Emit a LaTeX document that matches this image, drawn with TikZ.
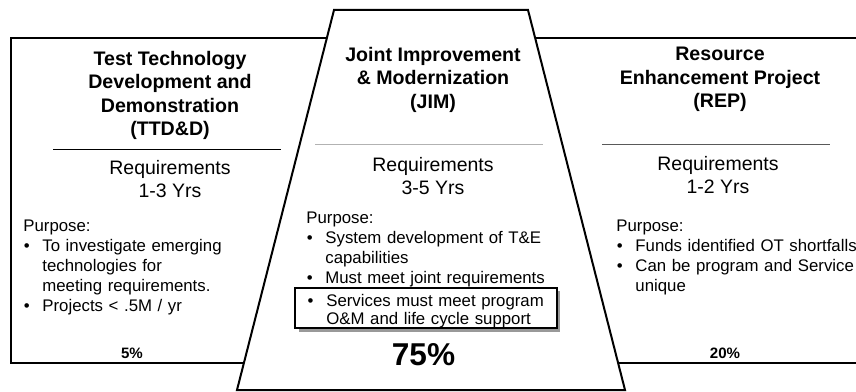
\documentclass[tikz,border=0pt]{standalone}
\usepackage{fontspec}
\setmainfont{Liberation Sans}
\usetikzlibrary{shadows}
\newcommand{\bitem}[1]{\par\hangindent=14.25pt\hangafter=1\noindent\makebox[14.25pt][l]{\hspace{0.3pt}\textbullet}#1\par}

\begin{document}
\begin{tikzpicture}[x=0.75pt,y=-0.75pt,semithick]
  \tikzstyle{frame}=[line width=1.5pt]
  \tikzstyle{title}=[align=center,font=\fontsize{14.7}{17.6}\selectfont\bfseries]
  \tikzstyle{req}=[align=center,font=\fontsize{14.6}{17.3}\selectfont]
  \tikzstyle{purpose}=[anchor=west,inner sep=0pt,text width=200pt,align=left,
                       font=\fontsize{12.6}{15}\selectfont]
  \tikzstyle{hilite}=[draw,line width=1.5pt,fill=white,text width=178pt,inner xsep=9pt,
                      inner ysep=0pt,minimum height=29pt,align=left,font=\fontsize{12.6}{14}\selectfont,
                      drop shadow={fill=gray!80,opacity=1,shadow xshift=2.5pt,shadow yshift=-2.5pt}]
  \tikzstyle{pct}=[font=\fontsize{11.3}{13}\selectfont\bfseries]

  \useasboundingbox (0,0) rectangle (856,392);

  % outer frame and the middle trapezoid
  \draw[frame] (862,38) -| (11,363) -- (862,363);
  \draw[frame,fill=white] (334,10) -- (528,10) -- (625,390) -- (237,390) -- cycle;

  % separators
  \draw[line width=0.75pt] (53,150) -- (281,150);
  \draw[line width=0.75pt,gray!60] (315,145) -- (543,145);
  \draw[line width=0.75pt,black!65] (602,145) -- (830,145);

  \node[title] (ttd) at (170,95.5) {Test Technology\\Development and\\Demonstration\\(TTD\&D)};
  \node[title] (jim) at (433,79.5) {Joint Improvement\\\& Modernization\\(JIM)};
  \node[title] (rep) at (720,79.5) {Resource\\Enhancement Project\\(REP)};

  \node[req] (ttdreq) at (170,179) {Requirements\\1-3 Yrs};
  \node[req] (jimreq) at (433,176.5) {Requirements\\3-5 Yrs};
  \node[req] (repreq) at (718,175.5) {Requirements\\1-2 Yrs};

  \node[purpose] (ttdlist) at (23,267) {Purpose:\bitem{To investigate emerging\newline technologies for\newline meeting requirements.}\bitem{Projects < .5M / yr}};
  \node[purpose] (jimlist) at (306,249) {Purpose:\bitem{System development of T\&E\newline capabilities}\bitem{Must meet joint requirements}};
  \node[hilite] (jimsvc) at (426,308) {\bitem{Services must meet program\newline O\&M and life cycle support}};
  \node[purpose] (replist) at (616,257) {Purpose:\bitem{Funds identified OT shortfalls}\bitem{Can be program and Service\newline unique}};

  \node[pct] (ttdpct) at (132,353) {5\%};
  \node[font=\fontsize{23.7}{28}\selectfont\bfseries] (jimpct) at (423.5,355) {75\%};
  \node[pct] (reppct) at (725,353) {20\%};
\end{tikzpicture}
\end{document}
